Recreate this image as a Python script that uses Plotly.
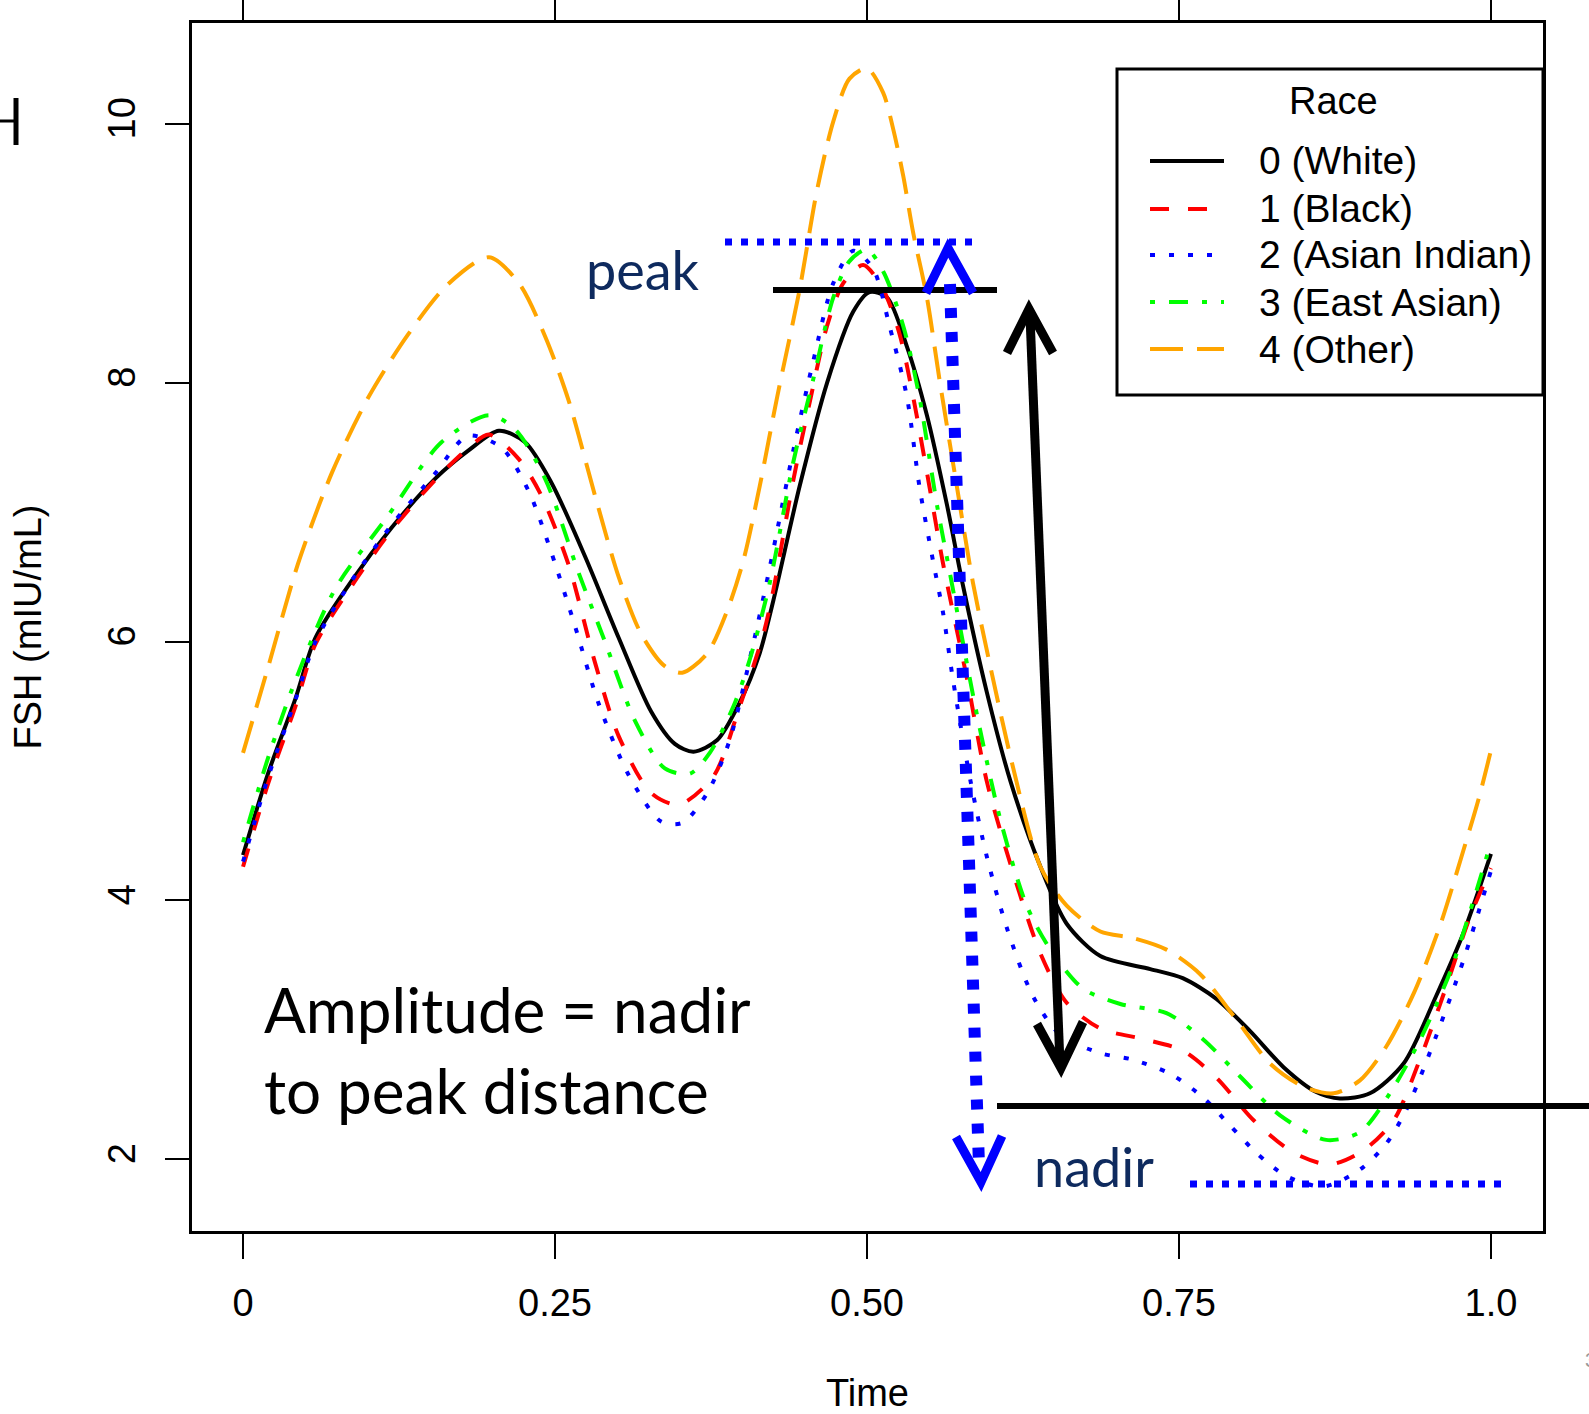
import plotly.graph_objects as go

# ---------------- data ----------------
t_white = [0, 0.02, 0.042, 0.058, 0.087, 0.119, 0.154, 0.181, 0.205, 0.226, 0.247, 0.274, 0.301, 0.327,
           0.346, 0.361, 0.38, 0.398, 0.414, 0.425, 0.446, 0.468, 0.489, 0.502, 0.516, 0.532, 0.548, 0.564,
           0.577, 0.596, 0.615, 0.639, 0.66, 0.687, 0.727, 0.753, 0.78, 0.807, 0.834, 0.86, 0.879, 0.903,
           0.93, 0.956, 0.978, 1.0]
v_white = [4.35, 4.98, 5.56, 6.03, 6.47, 6.88, 7.26, 7.48, 7.63, 7.54, 7.23, 6.66, 6.03, 5.46,
           5.21, 5.15, 5.24, 5.53, 5.91, 6.32, 7.2, 8.0, 8.55, 8.70, 8.66, 8.28, 7.75, 7.06,
           6.43, 5.61, 4.92, 4.26, 3.82, 3.57, 3.47, 3.4, 3.24, 2.99, 2.71, 2.52, 2.47, 2.51,
           2.74, 3.26, 3.75, 4.36]

t_black = [0, 0.02, 0.042, 0.058, 0.087, 0.119, 0.154, 0.181, 0.197, 0.221, 0.239, 0.261, 0.282, 0.301,
           0.327, 0.349, 0.377, 0.398, 0.417, 0.425, 0.441, 0.455, 0.468, 0.481, 0.497, 0.513, 0.526, 0.537,
           0.55, 0.561, 0.58, 0.596, 0.615, 0.639, 0.66, 0.687, 0.721, 0.753, 0.78, 0.81, 0.842, 0.871,
           0.898, 0.922, 0.943, 0.964, 0.983, 1.0]
v_black = [4.26, 4.9, 5.5, 5.98, 6.43, 6.86, 7.25, 7.5, 7.6, 7.41, 7.13, 6.59, 5.84, 5.27,
           4.83, 4.74, 4.96, 5.5, 6.06, 6.4, 7.25, 7.89, 8.44, 8.77, 8.91, 8.72, 8.38, 7.89,
           7.2, 6.6, 5.72, 4.92, 4.28, 3.59, 3.21, 3.01, 2.93, 2.84, 2.63, 2.3, 2.05, 1.96,
           2.07, 2.3, 2.77, 3.33, 3.87, 4.25]

t_asian_indian = [0, 0.02, 0.042, 0.058, 0.087, 0.119, 0.154, 0.18, 0.207, 0.229, 0.247, 0.266, 0.285,
                  0.309, 0.335, 0.352, 0.372, 0.39, 0.409, 0.422, 0.441, 0.457, 0.473, 0.489, 0.505, 0.518,
                  0.532, 0.542, 0.553, 0.561, 0.569, 0.583, 0.596, 0.612, 0.633, 0.655, 0.687, 0.713, 0.743,
                  0.769, 0.791, 0.812, 0.836, 0.866, 0.895, 0.916, 0.932, 0.956, 0.978, 1.0]
v_asian_indian = [4.3, 4.95, 5.55, 6.0, 6.47, 6.9, 7.3, 7.59, 7.5, 7.16, 6.69, 6.12, 5.52,
                  4.97, 4.61, 4.6, 4.83, 5.24, 5.99, 6.57, 7.48, 8.17, 8.77, 9.02, 8.88, 8.44,
                  7.89, 7.2, 6.62, 6.22, 5.7, 4.92, 4.34, 3.79, 3.26, 2.96, 2.82, 2.77, 2.66,
                  2.48, 2.26, 2.05, 1.87, 1.79, 1.92, 2.12, 2.38, 2.95, 3.54, 4.23]

t_east_asian = [0, 0.02, 0.042, 0.074, 0.116, 0.159, 0.197, 0.218, 0.242, 0.269, 0.29, 0.314, 0.338,
                0.358, 0.374, 0.393, 0.406, 0.422, 0.441, 0.457, 0.473, 0.486, 0.5, 0.513, 0.529, 0.542,
                0.556, 0.567, 0.588, 0.607, 0.628, 0.647, 0.673, 0.703, 0.74, 0.769, 0.799, 0.831, 0.868,
                0.895, 0.919, 0.943, 0.967, 0.986, 1.0]
v_east_asian = [4.45, 5.1, 5.7, 6.41, 6.97, 7.54, 7.75, 7.64, 7.26, 6.53, 6.0, 5.39, 5.02,
                4.98, 5.14, 5.5, 5.86, 6.45, 7.39, 8.03, 8.66, 8.94, 9.03, 8.86, 8.44, 7.89,
                7.06, 6.5, 5.44, 4.62, 3.96, 3.62, 3.32, 3.2, 3.13, 2.93, 2.64, 2.34, 2.15,
                2.21, 2.51, 2.92, 3.44, 4.0, 4.45]

t_other = [0, 0.02, 0.044, 0.071, 0.1, 0.132, 0.164, 0.197, 0.221, 0.242, 0.261, 0.282, 0.301, 0.319,
           0.338, 0.352, 0.372, 0.388, 0.401, 0.414, 0.428, 0.446, 0.46, 0.473, 0.486, 0.5, 0.513, 0.521,
           0.529, 0.537, 0.548, 0.558, 0.572, 0.585, 0.599, 0.617, 0.639, 0.66, 0.687, 0.713, 0.74, 0.767,
           0.796, 0.823, 0.85, 0.874, 0.895, 0.916, 0.938, 0.959, 0.978, 0.99, 1.0]
v_other = [5.14, 5.8, 6.6, 7.3, 7.88, 8.37, 8.76, 8.97, 8.77, 8.36, 7.86, 7.13, 6.5, 6.06,
           5.81, 5.76, 5.91, 6.24, 6.63, 7.2, 7.89, 8.72, 9.49, 10.02, 10.35, 10.43, 10.24, 9.96,
           9.6, 9.16, 8.66, 8.03, 7.2, 6.45, 5.8, 5.03, 4.26, 3.96, 3.76, 3.71, 3.62, 3.43,
           3.08, 2.74, 2.56, 2.51, 2.61, 2.87, 3.28, 3.8, 4.39, 4.78, 5.16]

series_names = ["0 (White)", "1 (Black)", "2 (Asian Indian)", "3 (East Asian)", "4 (Other)"]
x_tickvals = [0, 0.25, 0.5, 0.75, 1.0]
x_ticktext = ["0", "0.25", "0.50", "0.75", "1.0"]
y_tickvals = [2, 4, 6, 8, 10]
y_ticktext = ["2", "4", "6", "8", "10"]

# ---------------- styling ----------------
W, H = 1589, 1414
ML, MR, MT, MB = 192, 46, 23, 183
X_RANGE = [-0.0409, 1.0417]
Y_RANGE = [1.446, 10.78]
colors = ["#000000", "#FF0000", "#0000FF", "#00FF00", "#FFA500"]
dashes = ["solid", "19px,19px", "5px,14px", "5px,14px,19px,14px", "33px,14px"]
FONT = "Liberation Sans, Arial, sans-serif"
NOTE_FONT = "Lato, Open Sans, sans-serif"
NAVY = "#0E2A5E"

pw, ph = W - ML - MR, H - MT - MB


def px(x):
    return (x - ML) / pw


def py(y):
    return (H - MB - y) / ph


fig = go.Figure()
data = [(t_white, v_white), (t_black, v_black), (t_asian_indian, v_asian_indian),
        (t_east_asian, v_east_asian), (t_other, v_other)]
for name, (tt, vv), c, d in zip(series_names, data, colors, dashes):
    fig.add_trace(go.Scatter(x=tt, y=vv, mode="lines", name=name, showlegend=False,
                             line=dict(color=c, width=4, dash=d, shape="spline", smoothing=0.8)))

shapes = []
annotations = []


def seg(x0, y0, x1, y1, color, width, dash="solid"):
    shapes.append(dict(type="line", xref="paper", yref="paper", x0=px(x0), y0=py(y0),
                       x1=px(x1), y1=py(y1), line=dict(color=color, width=width, dash=dash),
                       layer="above"))


def chevron(pts, color, width):
    p = "M " + " L ".join(f"{px(a):.5f},{py(b):.5f}" for a, b in pts)
    shapes.append(dict(type="path", xref="paper", yref="paper", path=p,
                       line=dict(color=color, width=width), layer="above"))


# legend (drawn by hand to match the R legend box)
shapes.append(dict(type="rect", xref="paper", yref="paper", x0=px(1117), y0=py(395),
                   x1=px(1543), y1=py(69), line=dict(color="black", width=3),
                   fillcolor="white", layer="above"))
annotations.append(dict(text="Race", xref="paper", yref="paper", x=px(1333), y=py(101),
                        xanchor="center", yanchor="middle", showarrow=False,
                        font=dict(family=FONT, size=38, color="black")))
leg_y = [161, 209, 255, 302, 349]
for name, c, d, yy in zip(series_names, colors, dashes, leg_y):
    seg(1150, yy, 1224, yy, c, 4, d)
    annotations.append(dict(text=name, xref="paper", yref="paper", x=px(1257), y=py(yy),
                            xanchor="left", yanchor="middle", showarrow=False,
                            font=dict(family=FONT, size=39, color="black")))

# slide annotations
BLUE = "#0000FF"
seg(725, 242, 973, 242, BLUE, 7, "7px,9px")            # peak (dotted)
seg(773, 290, 997, 290, "black", 6)                      # peak (solid)
seg(950, 284, 979, 1166, BLUE, 12, "10px,14px")          # blue dotted arrow shaft
chevron([(926, 293), (948, 248), (973, 293)], BLUE, 9)
chevron([(956, 1137), (981, 1182), (1002, 1136)], BLUE, 9)
seg(1030, 316, 1060, 1064, "black", 9)                    # black double arrow shaft
chevron([(1007, 353), (1029, 309), (1053, 353)], "black", 9)
chevron([(1037, 1024), (1061, 1068), (1083, 1022)], "black", 9)
seg(997, 1106, 1595, 1106, "black", 6)                    # nadir (solid)
seg(1190, 1184, 1502, 1184, BLUE, 7, "7px,9px")          # nadir (dotted)
seg(0, 121, 17, 121, "black", 3)
seg(16, 98, 16, 145, "black", 5)

annotations.append(dict(text="peak", xref="paper", yref="paper", x=px(584), y=py(270),
                        xanchor="left", yanchor="middle", showarrow=False,
                        font=dict(family=NOTE_FONT, size=54, color=NAVY)))
annotations.append(dict(text="nadir", xref="paper", yref="paper", x=px(1032), y=py(1166),
                        xanchor="left", yanchor="middle", showarrow=False,
                        font=dict(family=NOTE_FONT, size=54, color=NAVY)))
annotations.append(dict(text="Amplitude = nadir", xref="paper", yref="paper", x=px(262), y=py(1009),
                        xanchor="left", yanchor="middle", showarrow=False,
                        font=dict(family=NOTE_FONT, size=62, color="black")))
annotations.append(dict(text="to peak distance", xref="paper", yref="paper", x=px(262), y=py(1090),
                        xanchor="left", yanchor="middle", showarrow=False,
                        font=dict(family=NOTE_FONT, size=62, color="black")))
annotations.append(dict(text="3", xref="paper", yref="paper", x=px(1583), y=py(1360),
                        xanchor="left", yanchor="middle", showarrow=False,
                        font=dict(family=FONT, size=20, color="#999999")))

fig.update_layout(
    width=W, height=H,
    margin=dict(l=ML, r=MR, t=MT, b=MB, autoexpand=False),
    paper_bgcolor="white", plot_bgcolor="white",
    showlegend=False,
    font=dict(family=FONT, size=38, color="black"),
    shapes=shapes, annotations=annotations,
)
fig.update_xaxes(range=X_RANGE, tickvals=x_tickvals, ticktext=x_ticktext,
                 showgrid=False, zeroline=False, showline=True, linecolor="black", linewidth=3,
                 mirror="ticks", ticks="outside", ticklen=25, tickwidth=2, tickcolor="black",
                 ticklabelstandoff=11, tickfont=dict(family=FONT, size=38, color="black"),
                 title=dict(text="Time", standoff=62, font=dict(family=FONT, size=38, color="black")),
                 automargin=True)
fig.update_yaxes(range=Y_RANGE, tickvals=y_tickvals, ticktext=y_ticktext, tickangle=-90,
                 showgrid=False, zeroline=False, showline=True, linecolor="black", linewidth=3,
                 mirror=True, ticks="outside", ticklen=24, tickwidth=2, tickcolor="black",
                 ticklabelstandoff=15, tickfont=dict(family=FONT, size=38, color="black"),
                 title=dict(text="FSH (mIU/mL)", standoff=48, font=dict(family=FONT, size=38, color="black")),
                 automargin=True)

fig.write_html("out.html")
